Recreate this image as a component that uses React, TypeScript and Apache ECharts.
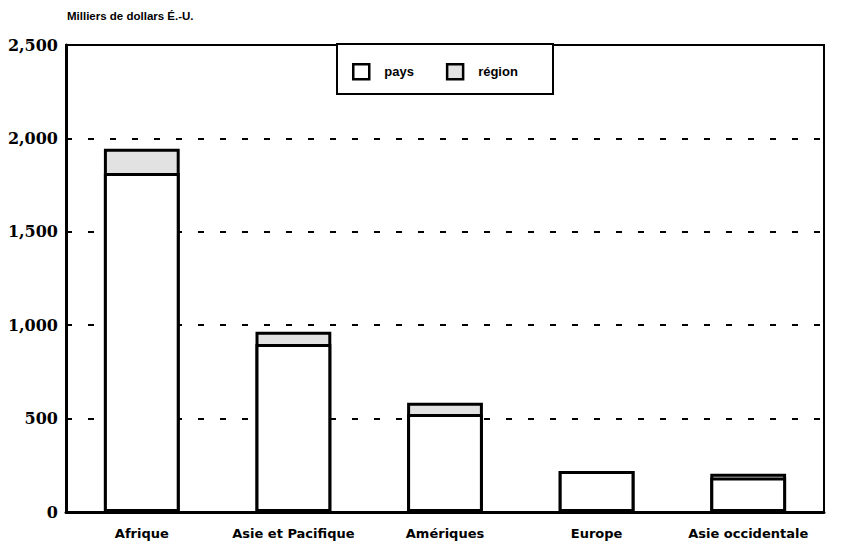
import React, { useEffect, useRef } from "react";
import * as echarts from "echarts";

const categories = ["Afrique", "Asie et Pacifique", "Amériques", "Europe", "Asie occidentale"];
const paysValues = [1815, 900, 525, 220, 185];
const regionValues = [130, 65, 60, 0, 20];
const yTicks = { min: 0, max: 2500, interval: 500 };
const unitLabel = "Milliers de dollars É.-U.";
const legendNames = ["pays", "région"];

export default function App() {
  const ref = useRef<HTMLDivElement>(null);
  useEffect(() => {
    const chart = echarts.init(ref.current!, undefined, { renderer: "svg" });
    // région bar is drawn as the full stack height (pays + région); the pays bar overlays it
    const totals = paysValues.map((v, i) => v + regionValues[i]);
    chart.setOption({
      animation: false,
      backgroundColor: "#ffffff",
      grid: {
        left: 66,
        right: 22,
        top: 45,
        bottom: 41,
        show: true,
        borderColor: "#000",
        borderWidth: 2,
        backgroundColor: "transparent",
      },
      graphic: [
        {
          type: "text",
          left: 67,
          top: 10,
          style: {
            text: unitLabel,
            font: "bold 11.5px 'Liberation Sans', Arial, sans-serif",
            fill: "#000",
          },
        },
        {
          type: "rect",
          shape: { x: 337, y: 44, width: 216, height: 50 },
          style: { fill: "#fff", stroke: "#000", lineWidth: 2 },
          z: 10,
        },
      ],
      legend: {
        data: legendNames,
        left: 352,
        top: 63,
        padding: 0,
        icon: "rect",
        itemWidth: 16,
        itemHeight: 15,
        itemGap: 32,
        z: 20,
        itemStyle: { borderWidth: 2.5 },
        textStyle: {
          fontFamily: "'Liberation Sans', Arial, sans-serif",
          fontWeight: "bold",
          fontSize: 13,
          color: "#000",
          padding: [0, 0, 0, 10],
        },
      },
      xAxis: {
        type: "category",
        data: categories,
        axisTick: { show: false },
        axisLine: { lineStyle: { color: "#000", width: 3 } },
        axisLabel: {
          interval: 0,
          color: "#000",
          fontFamily: "'DejaVu Sans', sans-serif",
          fontWeight: "bold",
          fontSize: 13,
          margin: 15,
        },
      },
      yAxis: {
        type: "value",
        min: yTicks.min,
        max: yTicks.max,
        interval: yTicks.interval,
        axisLine: { show: true, lineStyle: { color: "#000", width: 3 } },
        axisTick: { show: false },
        splitLine: {
          lineStyle: { color: "#000", width: 2, type: [6, 16] },
        },
        axisLabel: {
          color: "#000",
          fontFamily: "'DejaVu Serif', serif",
          fontWeight: "bold",
          fontSize: 16,
          margin: 8,
          formatter: (v: number) => v.toLocaleString("en-US"),
        },
      },
      series: [
        {
          name: legendNames[1],
          type: "bar",
          data: totals,
          barWidth: "50%",
          barGap: "-100%",
          itemStyle: { color: "#e2e2e2", borderColor: "#000", borderWidth: 3 },
        },
        {
          name: legendNames[0],
          type: "bar",
          data: paysValues,
          barWidth: "50%",
          barGap: "-100%",
          itemStyle: { color: "#ffffff", borderColor: "#000", borderWidth: 3 },
        },
      ],
    });
    return () => chart.dispose();
  }, []);
  return <div ref={ref} style={{ width: 846, height: 553, margin: -8 }} />;
}
